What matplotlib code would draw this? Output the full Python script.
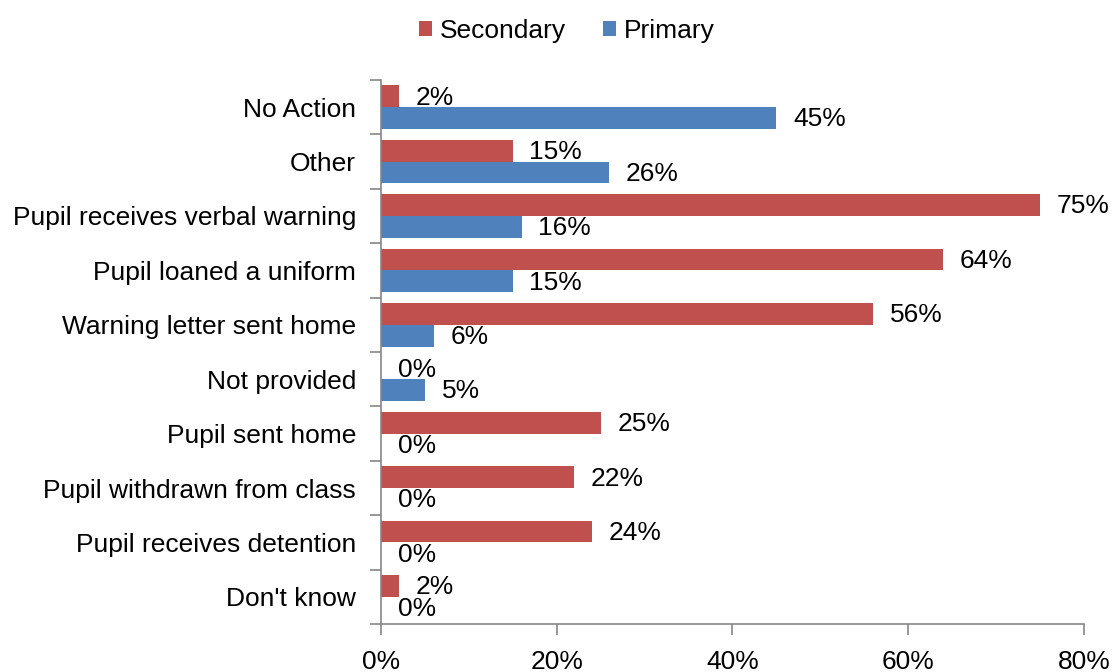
import matplotlib.pyplot as plt
import numpy as np

plt.rcParams['font.family'] = ['Liberation Sans', 'DejaVu Sans']

# Datos
categorias = [
    "No Action",
    "Other",
    "Pupil receives verbal warning",
    "Pupil loaned a uniform",
    "Warning letter sent home",
    "Not provided",
    "Pupil sent home",
    "Pupil withdrawn from class",
    "Pupil receives detention",
    "Don't know",
]
secondary = [2, 15, 75, 64, 56, 0, 25, 22, 24, 2]
primary = [45, 26, 16, 15, 6, 5, 0, 0, 0, 0]
x_ticks = [0, 20, 40, 60, 80]

rojo = "#C0504D"
azul = "#4F81BD"
gris = "#868686"
fs = 19

fig = plt.figure(figsize=(11.12, 6.72), dpi=100)
ax = fig.add_axes([0.3426, 0.0714, 0.9748 - 0.3426, 0.881 - 0.0714])

y = np.arange(len(categorias))
h = 0.4
b1 = ax.barh(y - h / 2, secondary, height=h, color=rojo, label="Secondary")
b2 = ax.barh(y + h / 2, primary, height=h, color=azul, label="Primary")

# Etiquetas de valores
for barras, vals in [(b1, secondary), (b2, primary)]:
    for rect, v in zip(barras, vals):
        ax.annotate(f"{v}%", (v, rect.get_y() + rect.get_height() / 2),
                    xytext=(12, -1), textcoords="offset points",
                    va="center", ha="left", fontsize=fs)

ax.set_xlim(0, 80)
ax.set_ylim(len(categorias) - 0.5, -0.5)
ax.set_xticks(x_ticks)
ax.set_xticklabels([f"{t}%" for t in x_ticks], fontsize=fs)
ax.set_yticks(y)
ax.set_yticklabels(categorias, fontsize=fs)
ax.set_yticks(np.arange(len(categorias) + 1) - 0.5, minor=True)

ax.tick_params(axis="y", which="major", length=0, pad=18)
ax.tick_params(axis="y", which="minor", length=8, color=gris, width=1.2)
ax.tick_params(axis="x", length=8, color=gris, width=1.2, pad=11)

for s in ["top", "right"]:
    ax.spines[s].set_visible(False)
for s in ["left", "bottom"]:
    ax.spines[s].set_color(gris)
    ax.spines[s].set_linewidth(1.2)

fig.legend(handles=[b1, b2], loc="center", bbox_to_anchor=(0.51, 0.954),
           ncol=2, frameon=False, fontsize=fs, handlelength=0.5,
           handleheight=0.5, handletextpad=0.3, columnspacing=1.4)

fig.savefig("out.png", dpi=100)
